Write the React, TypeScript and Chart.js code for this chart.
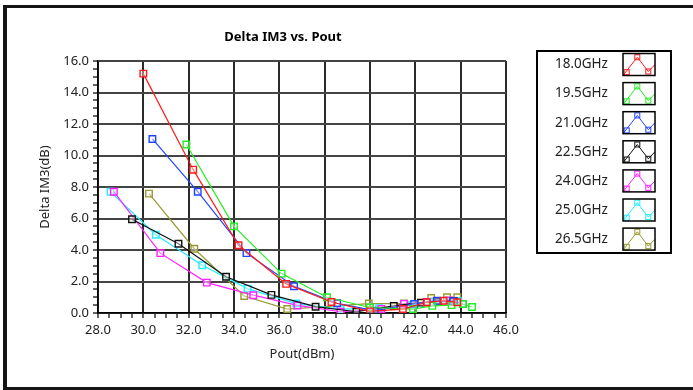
import React, { useEffect, useRef } from "react";
import { Chart, registerables } from "chart.js";

Chart.register(...registerables);

const seriesNames = ["18.0GHz", "19.5GHz", "21.0GHz", "22.5GHz", "24.0GHz", "25.0GHz", "26.5GHz"];
const seriesColors = ["#ff1a1a", "#22ee22", "#2244ff", "#111111", "#ff22ff", "#22eeff", "#999933"];

const pout18 = [30.0, 32.2, 34.2, 36.3, 38.3, 40.0, 41.45, 42.5, 43.25, 43.85];
const dim18 = [15.2, 9.1, 4.3, 1.85, 0.7, 0.1, 0.25, 0.68, 0.78, 0.68];

const pout195 = [31.9, 34.0, 36.1, 38.1, 40.0, 41.9, 42.75, 43.6, 44.1, 44.5];
const dim195 = [10.7, 5.5, 2.5, 1.0, 0.35, 0.25, 0.45, 0.5, 0.57, 0.38];

const pout21 = [30.4, 32.4, 34.55, 36.65, 38.55, 40.2, 41.95, 42.95, 43.65, 44.1];
const dim21 = [11.05, 7.7, 3.8, 1.7, 0.62, 0.15, 0.57, 0.78, 0.75, 0.57];

const pout225 = [29.5, 31.55, 33.65, 35.65, 37.6, 39.4, 41.05, 42.25, 43.0, 43.7];
const dim225 = [5.95, 4.4, 2.3, 1.15, 0.4, 0.08, 0.45, 0.66, 0.7, 0.75];

const pout24 = [28.7, 30.75, 32.8, 34.85, 36.8, 38.7, 40.5, 41.5, 42.5, 43.5];
const dim24 = [7.7, 3.8, 1.93, 1.13, 0.48, 0.08, 0.25, 0.58, 0.7, 0.8];

const pout25 = [28.55, 30.55, 32.6, 34.6, 36.75, 38.7, 40.4, 41.8, 42.8, 43.9];
const dim25 = [7.7, 4.97, 3.03, 1.55, 0.6, 0.25, 0.3, 0.5, 0.7, 0.75];

const pout265 = [30.25, 32.25, 34.45, 36.35, 39.95, 41.5, 42.7, 43.4, 43.85];
const dim265 = [7.58, 4.08, 1.08, 0.25, 0.6, 0.6, 0.95, 1.0, 1.0];

const xSeries = [pout18, pout195, pout21, pout225, pout24, pout25, pout265];
const ySeries = [dim18, dim195, dim21, dim225, dim24, dim25, dim265];

const chartTitle = "Delta IM3 vs. Pout";
const xTitle = "Pout(dBm)";
const yTitle = "Delta IM3(dB)";

const FONT = "'Noto Sans', 'Open Sans', sans-serif";

const decorPlugin = {
  id: "decor",
  afterDraw(chart: any) {
    const ctx = chart.ctx as CanvasRenderingContext2D;
    const area = chart.chartArea;
    ctx.save();
    // outer frame
    ctx.fillStyle = "#151515";
    ctx.fillRect(3, 5, 4, 385);
    ctx.fillRect(3, 5, 690, 3);
    ctx.fillRect(3, 387, 690, 3);

    // title
    ctx.fillStyle = "#000";
    ctx.font = `bold 13px ${FONT}`;
    ctx.textAlign = "center";
    ctx.textBaseline = "middle";
    ctx.fillText(chartTitle, 283, 37);

    // axis titles
    ctx.font = `13px ${FONT}`;
    ctx.fillStyle = "#222";
    ctx.fillText(xTitle, (area.left + area.right) / 2, 354);
    ctx.save();
    ctx.translate(45, (area.top + area.bottom) / 2);
    ctx.rotate(-Math.PI / 2);
    ctx.fillText(yTitle, 0, 0);
    ctx.restore();

    // legend
    const lx = 537, ly = 51, lw = 134, lh = 202;
    ctx.lineWidth = 2;
    ctx.strokeStyle = "#000";
    ctx.strokeRect(lx, ly, lw, lh);
    ctx.font = `13.5px ${FONT}`;
    ctx.textAlign = "left";
    ctx.textBaseline = "middle";
    for (let i = 0; i < seriesNames.length; i++) {
      const cy = 64.5 + i * 29.1;
      ctx.fillStyle = "#222";
      ctx.fillText(seriesNames[i], 555, cy);
      const bx = 623, by = cy - 11, bw = 32, bh = 22;
      ctx.save();
      ctx.beginPath();
      ctx.rect(bx, by, bw, bh);
      ctx.clip();
      ctx.strokeStyle = seriesColors[i];
      ctx.lineWidth = 1;
      ctx.beginPath();
      ctx.moveTo(bx + 0, by + 22);
      ctx.lineTo(bx + 14.3, by + 3.7);
      ctx.lineTo(bx + 25.3, by + 18);
      ctx.lineTo(bx + 32, by + 11);
      ctx.stroke();
      const pts = [[3.7, 18.7], [14.3, 3.7], [25.3, 18]];
      for (const p of pts) {
        ctx.strokeRect(bx + p[0] - 2.5, by + p[1] - 2.5, 5, 5);
      }
      ctx.restore();
      ctx.lineWidth = 1.5;
      ctx.strokeStyle = "#000";
      ctx.strokeRect(bx, by, bw, bh);
    }
    ctx.restore();
  },
};

export default function App() {
  const ref = useRef<HTMLCanvasElement | null>(null);
  useEffect(() => {
    if (!ref.current) return;
    const datasets = xSeries.map((xs, i) => ({
      label: seriesNames[i],
      data: xs.map((x, j) => ({ x, y: ySeries[i][j] })),
      borderColor: seriesColors[i],
      backgroundColor: "rgba(255,255,255,0.5)",
      borderWidth: 1.2,
      pointStyle: "rect",
      pointRadius: 4.6,
      pointBorderWidth: 1.4,
      pointBorderColor: seriesColors[i],
      pointBackgroundColor: "rgba(255,255,255,0.4)",
      showLine: true,
      tension: 0,
      fill: false,
    }));
    const isMajor = (v: number) => Math.abs(v / 2 - Math.round(v / 2)) < 1e-6;
    const chart = new Chart(ref.current, {
      type: "scatter",
      data: { datasets },
      plugins: [decorPlugin],
      options: {
        responsive: false,
        animation: false,
        layout: { padding: { left: 0, right: 187, top: 61, bottom: 0 } },
        plugins: { legend: { display: false }, title: { display: false }, tooltip: { enabled: false } },
        scales: {
          x: {
            type: "linear",
            min: 28,
            max: 46,
            afterFit: (s: any) => { s.height = 77; },
            ticks: {
              stepSize: 0.5,
              autoSkip: false,
              maxRotation: 0,
              padding: 4,
              color: "#222",
              font: { family: FONT, size: 13 },
              callback: (v: any) => (isMajor(Number(v)) ? Number(v).toFixed(1) : ""),
            },
            grid: {
              color: (c: any) => (isMajor(c.tick.value) ? "#2a2a2a" : "rgba(0,0,0,0)"),
              lineWidth: 2,
              tickColor: "#000",
              tickLength: 5,
              tickWidth: 1.2,
            },
            border: { display: true, color: "#000", width: 1.5 },
          },
          y: {
            type: "linear",
            min: 0,
            max: 16,
            afterFit: (s: any) => { s.width = 98; },
            ticks: {
              stepSize: 0.5,
              autoSkip: false,
              padding: 4,
              color: "#222",
              font: { family: FONT, size: 13 },
              callback: (v: any) => (isMajor(Number(v)) ? Number(v).toFixed(1) : ""),
            },
            grid: {
              color: (c: any) => (isMajor(c.tick.value) ? "#444" : "rgba(0,0,0,0)"),
              lineWidth: 2,
              tickColor: "#000",
              tickLength: 5,
              tickWidth: 1.2,
            },
            border: { display: true, color: "#000", width: 1.5 },
          },
        },
      },
    } as any);
    return () => chart.destroy();
  }, []);
  return (
    <div style={{ position: "absolute", left: 0, top: 0, width: 693, height: 390, background: "#fff" }}>
      <canvas ref={ref} width={693} height={390} style={{ width: 693, height: 390, display: "block" }} />
    </div>
  );
}
